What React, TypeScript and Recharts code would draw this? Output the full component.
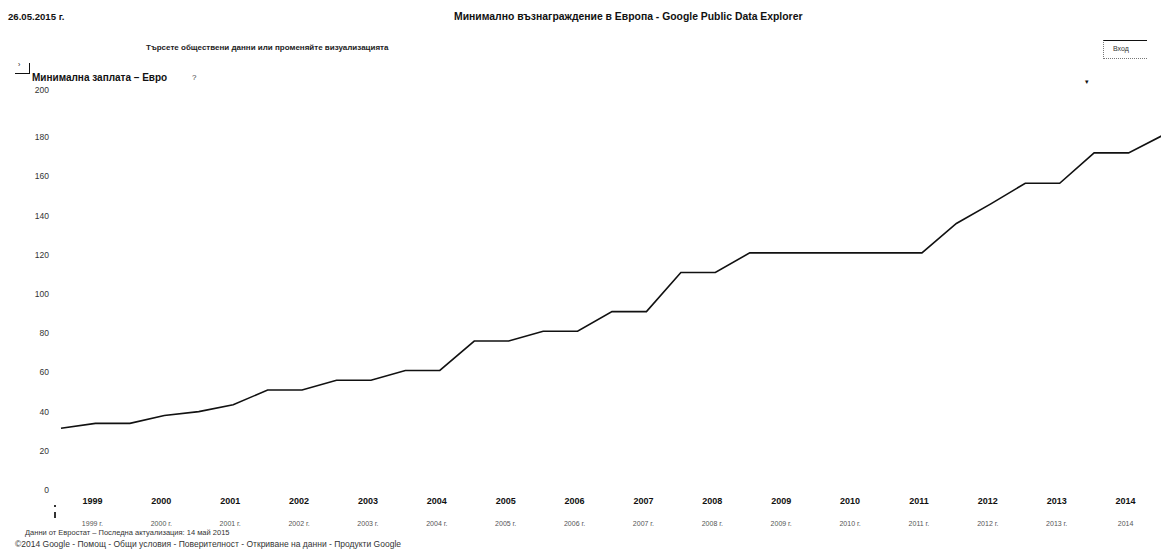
import { Line, LineChart, XAxis, YAxis } from "recharts";

// half-year observations, Jan / Jul
const periods = [
  "1999-01", "1999-07", "2000-01", "2000-07", "2001-01", "2001-07", "2002-01", "2002-07",
  "2003-01", "2003-07", "2004-01", "2004-07", "2005-01", "2005-07", "2006-01", "2006-07",
  "2007-01", "2007-07", "2008-01", "2008-07", "2009-01", "2009-07", "2010-01", "2010-07",
  "2011-01", "2011-07", "2012-01", "2012-07", "2013-01", "2013-07", "2014-01", "2014-07",
  "2015-01",
];

const wages = [
  31.5, 34, 34, 38, 40, 43.5, 51, 51,
  56, 56, 61, 61, 76, 76, 81, 81,
  91, 91, 111, 111, 121, 121, 121, 121,
  121, 121, 136, 146, 156.5, 156.5, 172, 172,
  181,
];

const yearTicks = [1999, 2000, 2001, 2002, 2003, 2004, 2005, 2006, 2007, 2008, 2009, 2010, 2011, 2012, 2013, 2014];
const yearSubLabels = [
  "1999 г.", "2000 г.", "2001 г.", "2002 г.", "2003 г.", "2004 г.", "2005 г.", "2006 г.",
  "2007 г.", "2008 г.", "2009 г.", "2010 г.", "2011 г.", "2012 г.", "2013 г.", "2014",
];
const valueTicks = [0, 20, 40, 60, 80, 100, 120, 140, 160, 180, 200];

const chartData = periods.map((p, i) => ({
  period: p,
  t: Number(p.slice(0, 4)) + (Number(p.slice(5, 7)) - 1) / 12,
  wage: wages[i],
}));

const FONT = "'Liberation Sans', Arial, sans-serif";

function YearTick(props: any) {
  const { x, y, payload } = props;
  const idx = yearTicks.indexOf(Math.floor(payload.value));
  return (
    <g>
      <text x={x - 3} y={y + 13.5} textAnchor="middle" fontSize={9} fontWeight="bold" fill="#111" fontFamily={FONT}>
        {yearTicks[idx]}
      </text>
      <text x={x - 3} y={y + 36} textAnchor="middle" fontSize={7} fill="#555" fontFamily={FONT}>
        {yearSubLabels[idx]}
      </text>
    </g>
  );
}

function ValueTick(props: any) {
  const { x, y, payload } = props;
  // the top label sits a little higher in the original
  const lift = payload.value === 200 ? -8 : 0;
  return (
    <text x={x} y={y + lift} dy="0.355em" textAnchor="end" fontSize={8.5} fill="#333" fontFamily={FONT}>
      {payload.value}
    </text>
  );
}

const abs = (left: number, top: number, extra: React.CSSProperties = {}): React.CSSProperties => ({
  position: "absolute",
  left,
  top,
  whiteSpace: "nowrap",
  fontFamily: FONT,
  color: "#111",
  lineHeight: 1,
  ...extra,
});

export default function App() {
  return (
    <div style={{ position: "absolute", left: 0, top: 0, width: 1161, height: 556, overflow: "hidden", background: "#fff" }}>
      <div style={abs(8, 12, { fontSize: 9.6, fontWeight: "bold" })}>26.05.2015 г.</div>
      <div style={abs(454, 12, { fontSize: 10.4, fontWeight: "bold" })}>
        Минимално възнаграждение в Европа - Google Public Data Explorer
      </div>
      <div style={abs(146, 44, { fontSize: 8, fontWeight: "bold", color: "#222" })}>
        Търсете обществени данни или променяйте визуализацията
      </div>

      {/* collapse icon */}
      <div style={{ position: "absolute", left: 15, top: 63, width: 14, height: 10, borderRight: "1.5px solid #111", borderBottom: "1.5px solid #111" }} />
      <div style={abs(18, 61, { fontSize: 7 })}>›</div>

      <div style={abs(32, 73, { fontSize: 10, fontWeight: "bold" })}>Минимална заплата – Евро</div>
      <div style={abs(192, 74, { fontSize: 8, color: "#444" })}>?</div>

      {/* login box */}
      <div style={{ position: "absolute", left: 1103, top: 40, width: 43, height: 17, borderTop: "1.5px solid #111", borderLeft: "1px dotted #777", borderBottom: "1px dotted #777" }} />
      <div style={abs(1113, 45, { fontSize: 7, color: "#333" })}>Вход</div>
      <div style={abs(1085, 78, { fontSize: 7 })}>▾</div>

      <div style={{ position: "absolute", left: 0, top: 0 }}>
        <LineChart width={1163} height={556} data={chartData} margin={{ top: 98, right: 0, bottom: 0, left: 0 }}>
          <XAxis
            type="number"
            dataKey="t"
            domain={[1999, 2015]}
            ticks={yearTicks.map((y) => y + 0.5)}
            interval={0}
            tick={<YearTick />}
            tickLine={false}
            axisLine={false}
            tickSize={0}
            tickMargin={0}
            height={66}
          />
          <YAxis
            domain={[0, 200]}
            ticks={valueTicks}
            interval={0}
            width={61}
            tickLine={false}
            axisLine={false}
            tickSize={0}
            tickMargin={12}
            tick={<ValueTick />}
          />
          <Line
            type="linear"
            dataKey="wage"
            stroke="#111"
            strokeWidth={1.6}
            dot={false}
            isAnimationActive={false}
          />
        </LineChart>
      </div>

      {/* slider marker */}
      <div style={{ position: "absolute", left: 54, top: 505, width: 2, height: 2, background: "#333" }} />
      <div style={{ position: "absolute", left: 54, top: 512, width: 2, height: 6, background: "#333" }} />

      <div style={abs(25, 529, { fontSize: 7.5, color: "#333" })}>
        Данни от Евростат – Последна актуализация: 14 май 2015
      </div>
      <div style={abs(15, 540, { fontSize: 8.5, color: "#333" })}>
        ©2014 Google - Помощ - Общи условия - Поверителност - Откриване на данни - Продукти Google
      </div>
    </div>
  );
}
